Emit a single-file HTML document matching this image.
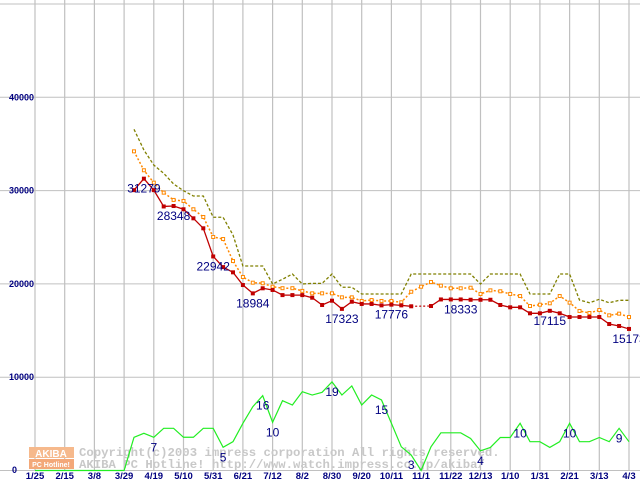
<!DOCTYPE html>
<html><head><meta charset="utf-8"><style>
html,body{margin:0;padding:0;background:#fff;}
svg{display:block;}
text{font-family:"Liberation Sans",sans-serif;}
</style></head><body>
<svg id="chart" width="640" height="480" viewBox="0 0 640 480" xmlns="http://www.w3.org/2000/svg">
<g id="grid"></g>
<g id="watermark">
 <rect x="29" y="447" width="45" height="11" fill="#f6b98c"/>
 <rect x="29" y="459" width="45" height="10" fill="#f3a878"/>
 <text x="51" y="457" font-size="10" font-weight="bold" fill="#fff" text-anchor="middle">AKIBA</text>
 <text x="51" y="467" font-size="7" font-weight="bold" fill="#fff" text-anchor="middle">PC Hotline!</text>
 <text x="79" y="456" font-size="12.3" font-weight="bold" fill="#c8c8c8" style="font-family:'Liberation Mono',monospace">Copyright(c)2003 impress corporation All rights reserved.</text>
 <text x="79" y="468" font-size="12.3" font-weight="bold" fill="#c8c8c8" style="font-family:'Liberation Mono',monospace">AKIBA PC Hotline! http://www.watch.impress.co.jp/akiba/</text>
</g>
<g id="series"></g>
<g id="labels"></g>
</svg>
<script>
const xTickLabels = ["1/25","2/15","3/8","3/29","4/19","5/10","5/31","6/21","7/12","8/2","8/30","9/20","10/11","11/1","11/22","12/13","1/10","1/31","2/21","3/13","4/3"];
const yTicks = [0,10000,20000,30000,40000,50000];
const redStart = 10;
const redValues = [30050,31279,30050,28300,28348,28000,27030,25960,22942,21800,21240,19880,18984,19530,19350,18800,18800,18800,
 18520,17740,18200,17323,18090,17850,17850,17700,17776,17700,17600,null,17630,18333,18333,18333,
 18300,18300,18300,17740,17490,17490,16850,16850,17115,16850,16450,16450,16450,16450,15700,15490,15173];
const orangeValues = [34210,32180,30850,29780,29000,28890,28000,27170,25030,24810,22450,20740,20130,20070,19700,19540,19540,19250,
 18990,18990,18990,18560,18560,18170,18270,18170,18170,18030,19160,19700,20200,19810,19530,19530,
 19590,18920,19310,19210,18920,18700,17630,17770,17920,18700,17990,17100,16880,17200,16630,16810,16450];
const oliveValues = [36570,34350,32740,31850,30710,29990,29420,29420,27140,27140,25240,21920,21920,21920,19990,20500,21060,19990,
 20060,20060,21060,19640,19640,18920,18920,18920,18920,18920,21060,21060,21060,21060,21060,21060,
 21060,19990,21060,21060,21060,21060,18920,18920,18920,21060,21060,18270,17980,18350,17980,18240,18240];
const greenValues = [0,0,0,0,0,0,0,0,0,0,3560,3990,3560,4520,4520,3560,3560,4520,4520,2490,3090,5060,6840,8020,5170,7480,7020,8450,8090,
 8380,9500,8090,9060,7020,8090,7560,5060,2540,1660,0,2540,4040,4040,4040,3430,2110,2470,3540,3540,5060,3090,3090,2470,3090,5060,3090,3090,3540,3090,4520,3090];
const redLabelWeeks = [11,14,18,22,31,36,43,52,60];
const greenLabelWeeks = [12,19,23,24,30,35,38,45,49,54,59];
const greenLabelTexts = ["7","5","16","10","19","15","3","4","10","10","9"];

const NS="http://www.w3.org/2000/svg";
const X0=35, WK=9.9;
function xs(k){return X0+k*WK;}
function ys(v){return 470.5-v*0.00933;}
function mk(tag,attrs,parent){const e=document.createElementNS(NS,tag);for(const a in attrs)e.setAttribute(a,attrs[a]);parent.appendChild(e);return e;}
const grid=document.getElementById('grid'), ser=document.getElementById('series'), lab=document.getElementById('labels');

yTicks.forEach(v=>{
 const l=mk('line',{x1:0,x2:640,y1:ys(v),y2:ys(v),stroke:'#c0c0c0','stroke-width':1},grid);
 
 
 if(v>0&&v<50000){const t=mk('text',{x:34,y:ys(v)+3,'font-size':9,'font-weight':'bold',fill:'#000080','text-anchor':'end'},grid);t.textContent=v;
 
 }
});
const z=mk('text',{x:12,y:473,'font-size':9,'font-weight':'bold',fill:'#000080'},grid);z.textContent='0';


xTickLabels.forEach((s,i)=>{
 const x=xs(i*3);
 const l=mk('line',{x1:x,x2:x,y1:0,y2:470,stroke:'#c0c0c0','stroke-width':1.2},grid);
 
 
 const t=mk('text',{x:x,y:479,'font-size':9.5,'font-weight':'bold',fill:'#000080','text-anchor':'middle'},grid);t.textContent=s;
 
 
});

function line(vals,start,color,dash,name,width){
 let segs=[],cur=[];
 vals.forEach((v,i)=>{if(v==null){if(cur.length)segs.push(cur);cur=[];}else cur.push([xs(start+i),ys(v)]);});
 if(cur.length)segs.push(cur);
 segs.forEach(s=>{const p=mk('polyline',{points:s.map(q=>q.join(',')).join(' '),fill:'none',stroke:color,'stroke-width':width||1.2,'stroke-dasharray':dash||'none'},ser);
 
 });
 for(let i=1;i<vals.length-1;i++){if(vals[i]==null&&vals[i-1]!=null&&vals[i+1]!=null){
  const g=mk('line',{x1:xs(start+i-1),y1:ys(vals[i-1]),x2:xs(start+i+1),y2:ys(vals[i+1]),stroke:color,'stroke-width':1.2,'stroke-dasharray':'2,2'},ser);
  
  }}
}
line(greenValues,0,'#22ee22',null,'count-line',1.2);
line(oliveValues,redStart,'#808000','3,2','max-price-line',1.3);
line(orangeValues,redStart,'#ff8800','2,2','avg-price-line',1.5);
line(redValues,redStart,'#c00000',null,'min-price-line',1.3);
orangeValues.forEach((v,i)=>{const r=mk('rect',{x:xs(redStart+i)-1.5,y:ys(v)-1.5,width:3,height:3,fill:'#fff',stroke:'#ff8800','stroke-width':1},ser);
 
 });
redValues.forEach((v,i)=>{if(v==null)return;const r=mk('rect',{x:xs(redStart+i)-2,y:ys(v)-2,width:4,height:4,fill:'#c00000'},ser);
 
 });

redLabelWeeks.forEach(k=>{const v=redValues[k-redStart];
 const t=mk('text',{x:xs(k),y:ys(v)+14,'font-size':12,fill:'#000080','text-anchor':'middle'},lab);t.textContent=v;
 
 });
greenLabelWeeks.forEach((k,i)=>{const v=greenValues[k];
 const t=mk('text',{x:xs(k),y:Math.min(ys(v)+14,472),'font-size':12,fill:'#000080','text-anchor':'middle'},lab);t.textContent=greenLabelTexts[i];
 
 });
</script>
</body></html>
